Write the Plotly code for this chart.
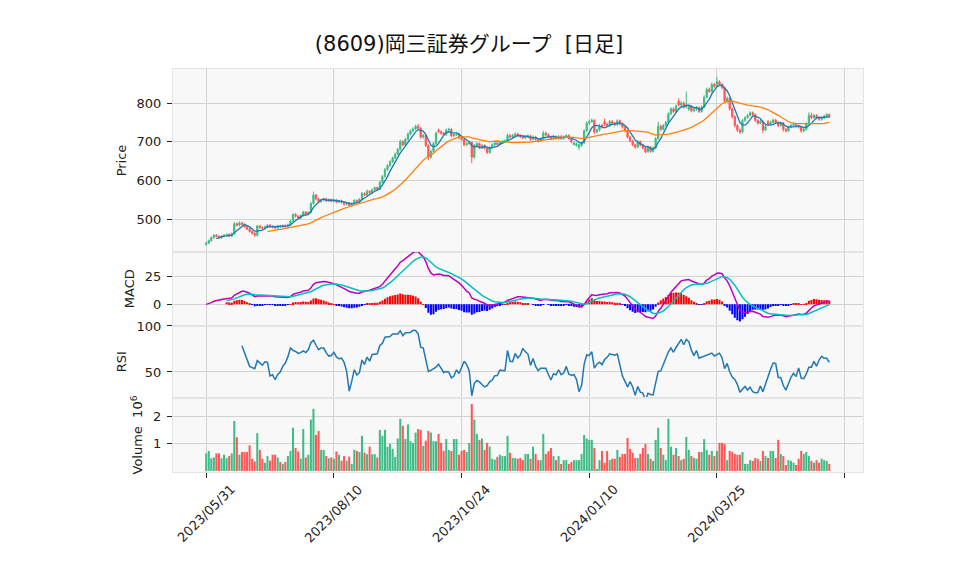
import plotly.graph_objects as go
import pandas as pd

# ---------------- data ----------------
title_text = "(8609)岡三証券グループ  [日足]"
tick_positions = [0, 50, 100, 150, 200, 250]
tick_labels = ["2023/05/31", "2023/08/10", "2023/10/24", "2024/01/10", "2024/03/25"]

open_ = [434, 438, 444, 452, 458, 455, 452, 456, 458, 460, 456, 462, 488, 484, 490, 486, 480, 474, 468, 463,
         458, 482, 478, 476, 480, 484, 481, 479, 477, 482, 480, 483, 481, 485, 495, 512, 507, 503, 509, 518,
         513, 517, 540, 562, 552, 545, 549, 552, 547, 550, 546, 549, 544, 547, 543, 538, 541, 535, 540, 548,
         545, 551, 566, 562, 572, 568, 576, 581, 577, 595, 610, 628, 638, 648, 658, 668, 680, 700, 692, 706,
         720, 728, 733, 740, 735, 712, 716, 690, 660, 675, 695, 730, 726, 722, 718, 730, 732, 715, 718, 720,
         710, 705, 692, 695, 698, 660, 690, 695, 685, 690, 683, 672, 685, 692, 697, 693, 698, 700, 702, 716,
         712, 716, 720, 716, 713, 710, 713, 715, 706, 712, 706, 702, 708, 722, 718, 712, 707, 713, 708, 714,
         708, 713, 716, 708, 693, 690, 685, 690, 697, 728, 748, 752, 755, 725, 730, 742, 752, 745, 742, 752,
         748, 744, 754, 746, 738, 728, 712, 702, 692, 686, 700, 692, 684, 674, 686, 675, 684, 708, 740, 732,
         742, 750, 772, 785, 778, 805, 795, 800, 790, 784, 792, 780, 784, 788, 778, 790, 815, 835, 830, 848,
         843, 855, 848, 840, 805, 812, 785, 765, 742, 730, 725, 755, 762, 768, 775, 770, 755, 748, 752, 730,
         752, 745, 750, 756, 750, 742, 748, 732, 728, 738, 742, 745, 741, 738, 728, 732, 746, 768, 762, 768,
         762, 758, 762, 766, 770]
high = [441, 447, 455, 461, 461, 458, 459, 461, 463, 463, 465, 492, 491, 494, 493, 489, 483, 477, 471, 466,
        485, 485, 481, 483, 487, 487, 484, 482, 485, 485, 486, 486, 488, 498, 515, 515, 510, 512, 521, 521,
        520, 544, 571, 565, 555, 552, 555, 555, 553, 553, 552, 552, 550, 550, 546, 544, 544, 543, 551, 551,
        554, 570, 569, 576, 575, 579, 584, 584, 599, 614, 632, 642, 652, 662, 672, 684, 705, 704, 710, 724,
        732, 737, 744, 746, 738, 720, 719, 693, 679, 699, 726, 734, 729, 725, 734, 736, 735, 722, 724, 723,
        713, 708, 699, 702, 701, 694, 699, 698, 694, 693, 686, 689, 696, 701, 700, 702, 704, 706, 721, 720,
        720, 724, 723, 719, 716, 716, 719, 718, 716, 715, 709, 711, 728, 726, 721, 715, 716, 716, 717, 717,
        716, 719, 719, 711, 700, 698, 695, 700, 732, 753, 757, 760, 758, 734, 746, 746, 760, 749, 756, 756,
        751, 758, 757, 749, 741, 731, 715, 705, 695, 704, 703, 695, 687, 690, 689, 688, 712, 752, 744, 746,
        754, 776, 789, 789, 796, 812, 805, 804, 830, 796, 795, 788, 792, 791, 794, 820, 840, 840, 853, 852,
        868, 859, 851, 843, 817, 815, 788, 768, 745, 734, 759, 766, 772, 779, 778, 773, 758, 756, 755, 744,
        756, 754, 760, 759, 753, 752, 751, 735, 742, 746, 749, 748, 744, 741, 736, 750, 776, 775, 772, 771,
        765, 766, 770, 774, 773]
low = [431, 435, 441, 449, 452, 449, 449, 453, 455, 453, 453, 459, 481, 481, 483, 477, 471, 465, 460, 454,
       455, 475, 473, 473, 477, 478, 476, 474, 474, 477, 477, 478, 478, 482, 492, 504, 500, 500, 506, 510,
       510, 514, 537, 548, 541, 542, 546, 544, 544, 543, 543, 541, 541, 540, 535, 535, 532, 532, 537, 542,
       542, 548, 559, 559, 565, 565, 573, 574, 574, 592, 607, 625, 635, 645, 655, 665, 677, 688, 689, 703,
       716, 724, 729, 731, 708, 708, 686, 652, 656, 672, 692, 722, 718, 714, 715, 727, 711, 712, 715, 706,
       702, 688, 689, 692, 644, 656, 687, 681, 682, 680, 668, 669, 682, 689, 690, 690, 695, 697, 699, 709,
       709, 713, 713, 710, 707, 707, 710, 702, 703, 703, 698, 699, 705, 714, 709, 704, 704, 705, 705, 705,
       705, 710, 705, 696, 690, 687, 678, 687, 694, 725, 744, 749, 720, 721, 727, 734, 741, 738, 739, 744,
       740, 741, 742, 734, 724, 708, 698, 688, 682, 683, 688, 680, 670, 671, 671, 672, 681, 705, 728, 729,
       739, 747, 769, 774, 775, 791, 791, 786, 786, 780, 776, 776, 780, 774, 775, 787, 812, 826, 827, 839,
       840, 844, 836, 800, 801, 780, 760, 737, 725, 720, 722, 752, 759, 765, 766, 751, 744, 745, 722, 727,
       741, 742, 747, 746, 738, 739, 726, 724, 725, 735, 739, 737, 734, 723, 724, 729, 743, 758, 759, 758,
       754, 754, 758, 762, 761]
close = [438, 444, 452, 458, 455, 452, 456, 458, 460, 456, 462, 488, 484, 490, 486, 480, 474, 468, 463, 458,
         482, 478, 476, 480, 484, 481, 479, 477, 482, 480, 483, 481, 485, 495, 512, 507, 503, 509, 518, 513,
         517, 540, 562, 552, 545, 549, 552, 547, 550, 546, 549, 544, 547, 543, 538, 541, 535, 540, 548, 545,
         551, 566, 562, 572, 568, 576, 581, 577, 595, 610, 628, 638, 648, 658, 668, 680, 700, 692, 706, 720,
         728, 733, 740, 735, 712, 716, 690, 660, 675, 695, 722, 726, 722, 718, 730, 732, 715, 718, 720, 710,
         705, 692, 695, 698, 660, 690, 695, 685, 690, 683, 672, 685, 692, 697, 693, 698, 700, 702, 716, 712,
         716, 720, 716, 713, 710, 713, 715, 706, 712, 706, 702, 708, 722, 718, 712, 707, 713, 708, 714, 708,
         713, 716, 708, 700, 697, 695, 692, 697, 728, 748, 752, 755, 725, 730, 742, 738, 745, 742, 752, 748,
         744, 754, 746, 738, 728, 712, 702, 692, 686, 700, 692, 684, 674, 686, 675, 684, 708, 740, 732, 742,
         750, 772, 785, 778, 792, 795, 800, 790, 795, 792, 780, 784, 788, 778, 790, 815, 835, 830, 848, 843,
         855, 848, 840, 805, 812, 785, 765, 742, 730, 725, 755, 762, 768, 775, 770, 755, 748, 752, 730, 740,
         745, 750, 756, 750, 742, 748, 732, 728, 738, 742, 745, 741, 738, 728, 732, 746, 768, 762, 768, 762,
         758, 762, 766, 770, 765]
volume_m = [0.65, 0.74, 0.47, 0.50, 0.65, 0.65, 0.47, 0.60, 0.47, 0.55, 0.65, 1.85, 1.25, 0.60, 0.70, 0.70, 0.70, 0.95, 0.45, 0.35,
            1.40, 0.78, 0.45, 0.30, 0.55, 0.38, 0.60, 0.60, 0.50, 0.33, 0.26, 0.33, 0.55, 0.74, 1.60, 0.85, 0.72, 0.45, 1.55, 0.50,
            0.60, 1.90, 2.30, 1.33, 1.48, 0.78, 0.78, 0.55, 0.47, 0.50, 0.45, 0.72, 0.60, 0.38, 0.55, 0.38, 0.53, 0.26, 0.78, 0.74,
            0.70, 1.30, 0.68, 0.62, 0.90, 0.62, 0.62, 0.50, 1.52, 1.30, 1.52, 0.90, 1.00, 0.82, 0.52, 1.20, 1.93, 1.67, 1.18, 1.72,
            1.10, 1.04, 1.42, 1.55, 1.52, 0.93, 1.12, 1.48, 1.42, 1.10, 1.10, 1.37, 1.04, 0.74, 1.18, 0.78, 0.74, 1.18, 1.18, 0.60,
            0.74, 0.78, 0.70, 1.04, 2.48, 1.90, 1.37, 1.15, 1.20, 0.78, 1.04, 0.90, 0.45, 0.42, 0.52, 0.60, 0.55, 0.55, 1.30, 0.67,
            0.48, 0.48, 0.45, 0.48, 0.40, 0.63, 0.63, 0.45, 0.90, 0.63, 0.40, 0.40, 1.37, 0.63, 0.73, 0.85, 0.55, 0.40, 0.55, 0.26,
            0.40, 0.40, 0.26, 0.33, 0.40, 0.40, 0.40, 0.63, 1.33, 1.20, 1.15, 1.15, 0.85, 0.07, 0.40, 0.74, 0.30, 0.74, 0.40, 0.45,
            0.45, 0.78, 0.52, 0.63, 0.63, 1.22, 0.82, 0.67, 0.48, 0.48, 0.63, 0.85, 1.00, 0.63, 0.45, 0.37, 1.15, 1.60, 0.85, 0.60,
            0.40, 1.93, 0.90, 0.60, 0.85, 0.55, 0.40, 0.45, 1.26, 0.78, 0.55, 0.48, 0.45, 0.70, 0.70, 1.18, 0.78, 0.60, 0.74, 0.55,
            0.74, 1.04, 1.04, 1.00, 0.40, 0.74, 0.70, 0.63, 0.60, 0.60, 0.70, 0.26, 0.26, 0.40, 0.37, 0.48, 0.45, 0.37, 0.74, 0.55,
            0.48, 0.74, 0.74, 0.48, 1.15, 0.63, 0.55, 0.22, 0.40, 0.37, 0.30, 0.22, 0.45, 0.74, 0.63, 0.70, 0.55, 0.37, 0.30, 0.40,
            0.30, 0.45, 0.40, 0.37, 0.26]

# ---------------- indicators (computed from the closes, as the original chart does) ----------------
idx = list(range(len(close)))
c = pd.Series(close, dtype=float)
ma_short = c.rolling(5).mean()
ma_long = c.rolling(25).mean()
ema12 = c.ewm(span=12, adjust=False).mean()
ema26 = c.ewm(span=26, adjust=False).mean()
macd = ema12 - ema26
signal = macd.ewm(span=9, adjust=False).mean()
hist = macd - signal
signal[:8] = float("nan")
hist[:8] = float("nan")
delta = c.diff()
gain = delta.clip(lower=0).rolling(14).mean()
loss = (-delta.clip(upper=0)).rolling(14).mean()
rsi = 100 - 100 / (1 + gain / loss)

UP = "#3dbd85"
DOWN = "#ff5656"
GRID = "#d2d2d2"
BG = "#f8f8f8"
LATIN = "DejaVu Sans"
TITLEFONT = "DejaVu Sans, Noto Sans CJK JP"

vol_colors = [UP if cl >= op else DOWN for op, cl in zip(open_, close)]
hist_colors = ["#ff0000" if (h == h and h >= 0) else "#0000ff" for h in hist]

fig = go.Figure()
fig.add_trace(go.Candlestick(
    x=idx, open=open_, high=high, low=low, close=close,
    increasing=dict(line=dict(color=UP, width=1), fillcolor=UP),
    decreasing=dict(line=dict(color=DOWN, width=1), fillcolor=DOWN),
    whiskerwidth=0, showlegend=False, xaxis="x", yaxis="y", hoverinfo="skip"))
fig.add_trace(go.Scatter(x=idx, y=ma_short, mode="lines", line=dict(color="#1f77b4", width=1.3),
                         showlegend=False, xaxis="x", yaxis="y"))
fig.add_trace(go.Scatter(x=idx, y=ma_long, mode="lines", line=dict(color="#ff7f0e", width=1.3),
                         showlegend=False, xaxis="x", yaxis="y"))

fig.add_trace(go.Bar(x=idx, y=hist, marker=dict(color=hist_colors, line=dict(width=0)), width=0.8,
                     showlegend=False, xaxis="x2", yaxis="y2"))
fig.add_trace(go.Scatter(x=idx, y=macd, mode="lines", line=dict(color="#bf00bf", width=1.5),
                         showlegend=False, xaxis="x2", yaxis="y2"))
fig.add_trace(go.Scatter(x=idx, y=signal, mode="lines", line=dict(color="#00bfbf", width=1.5),
                         showlegend=False, xaxis="x2", yaxis="y2"))

fig.add_trace(go.Scatter(x=idx, y=rsi, mode="lines", line=dict(color="#1f77b4", width=1.5),
                         showlegend=False, xaxis="x3", yaxis="y3"))

fig.add_trace(go.Bar(x=idx, y=volume_m, marker=dict(color=vol_colors, line=dict(width=0)), width=0.8,
                     showlegend=False, xaxis="x4", yaxis="y4"))

# date labels centred under their ticks (rotated 45 degrees)
for pos, lab in zip(tick_positions, tick_labels):
    fig.add_annotation(x=pos, xref="x4", y=0, yref="paper", yanchor="top", xanchor="center",
                       yshift=-7, text=lab, textangle=-45, showarrow=False,
                       font=dict(size=13, color="#222", family=LATIN))

xr = [-13, 257.2]
common_x = dict(range=xr, tickmode="array", tickvals=tick_positions, showgrid=True, gridcolor=GRID,
                gridwidth=1, zeroline=False, showline=True, linecolor="#e4e4e4", mirror=True,
                showticklabels=False)
common_y = dict(showgrid=True, gridcolor=GRID, gridwidth=1, zeroline=False, showline=True,
                linecolor="#e4e4e4", mirror=True, ticks="outside", ticklen=5, tickcolor="#222",
                ticklabelstandoff=3,
                tickfont=dict(size=13, color="#222", family=LATIN), automargin=True)

d_vol = [0, 0.1836]
d_rsi = [0.1836, 0.3635]
d_macd = [0.3635, 0.5459]
d_price = [0.5459, 1]

# the page body adds an 8px offset, so the figure is laid out 8px smaller on each side
fig.update_layout(
    width=950, height=567,
    margin=dict(l=165, r=95, t=61, b=103),
    paper_bgcolor="white", plot_bgcolor=BG,
    font=dict(family=LATIN, color="#222"),
    bargap=0.2,
    title=dict(text=title_text, x=461 / 950, xref="container", xanchor="center", y=1 - 36 / 567,
               yref="container", yanchor="middle", font=dict(size=21, family=TITLEFONT, color="#111")),
    xaxis=dict(common_x, anchor="y", domain=[0, 1], ticks="", rangeslider=dict(visible=False)),
    xaxis2=dict(common_x, anchor="y2", domain=[0, 1], matches="x", ticks=""),
    xaxis3=dict(common_x, anchor="y3", domain=[0, 1], matches="x", ticks=""),
    xaxis4=dict(common_x, anchor="y4", domain=[0, 1], matches="x",
                ticks="outside", ticklen=5, tickcolor="#222"),
    yaxis=dict(common_y, anchor="x", domain=d_price, range=[414.7, 888], tickvals=[500, 600, 700, 800],
               title=dict(text="Price", standoff=7, font=dict(size=13, family=LATIN))),
    yaxis2=dict(common_y, anchor="x2", domain=d_macd, range=[-18.75, 46.4], tickvals=[0, 25],
                title=dict(text="MACD", standoff=7, font=dict(size=13, family=LATIN))),
    yaxis3=dict(common_y, anchor="x3", domain=d_rsi, range=[21.7, 100.5], tickvals=[50, 100],
                title=dict(text="RSI", standoff=7, font=dict(size=13, family=LATIN))),
    yaxis4=dict(common_y, anchor="x4", domain=d_vol, range=[-0.04, 2.7], tickvals=[1, 2],
                title=dict(text="Volume  10<sup>6</sup>", standoff=7, font=dict(size=13, family=LATIN))),
)

fig.write_html("out.html")
